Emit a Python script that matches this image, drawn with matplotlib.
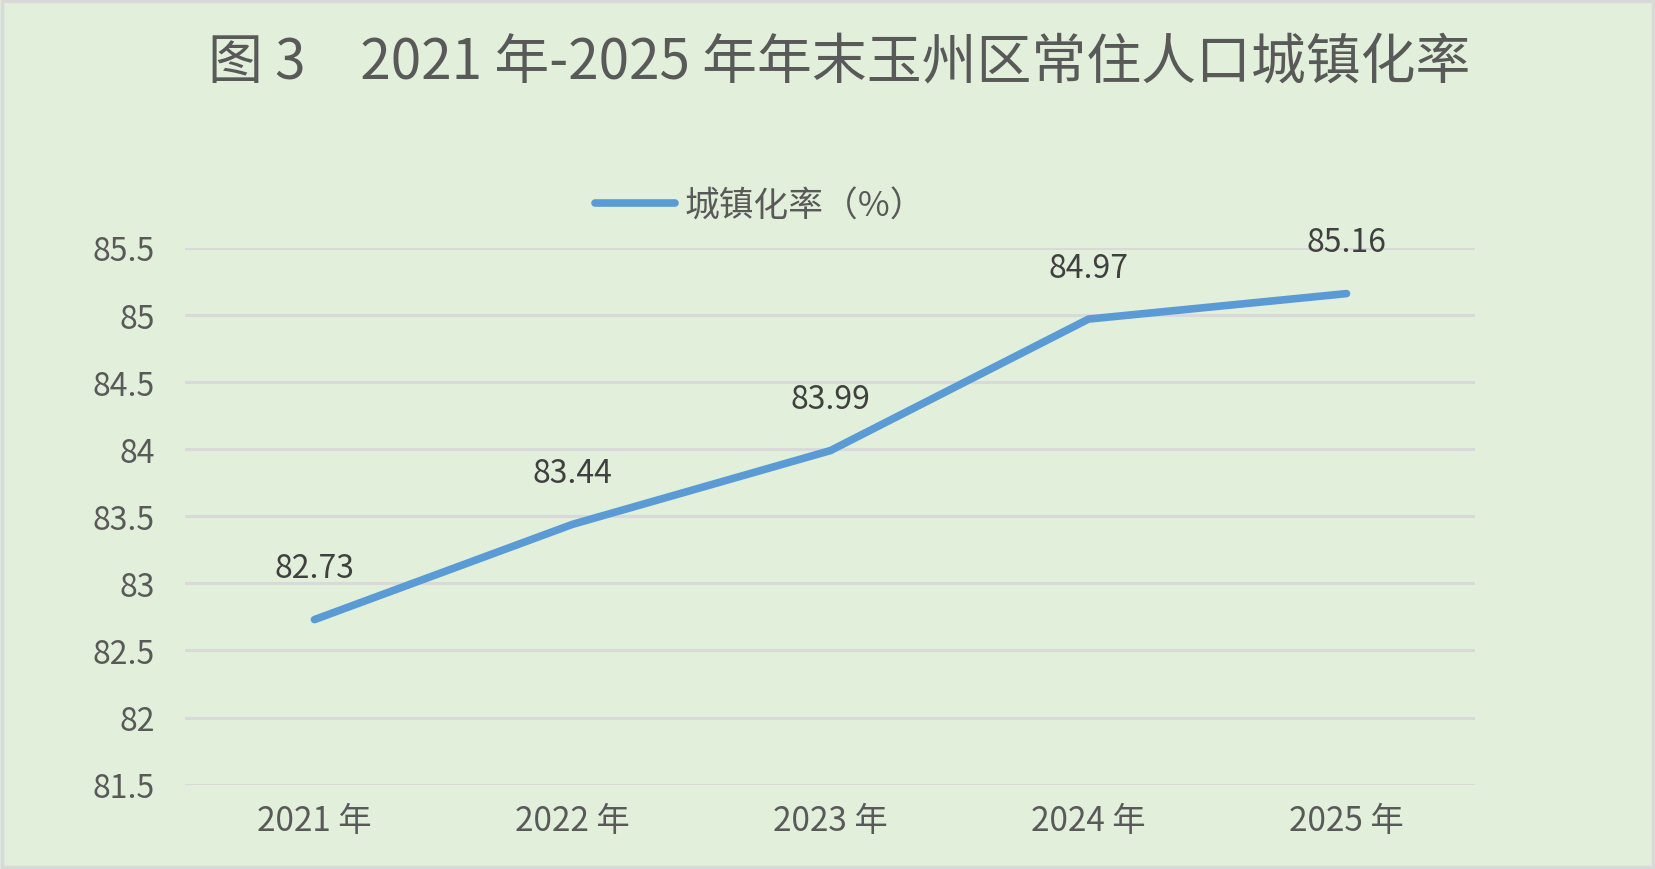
import matplotlib
matplotlib.use("Agg")
import matplotlib.pyplot as plt
from matplotlib.patches import Rectangle

plt.rcParams['font.family'] = ['Noto Sans CJK SC', 'DejaVu Sans']

# data
years = ["2021 年", "2022 年", "2023 年", "2024 年", "2025 年"]
rate = [82.73, 83.44, 83.99, 84.97, 85.16]
y_ticks = [81.5, 82, 82.5, 83, 83.5, 84, 84.5, 85, 85.5]
y_tick_labels = ["81.5", "82", "82.5", "83", "83.5", "84", "84.5", "85", "85.5"]

title = "图 3　2021 年-2025 年年末玉州区常住人口城镇化率"
series_name = "城镇化率（%）"

bg = "#E2EFDA"
text_grey = "#595959"
line_blue = "#5B9BD5"

fig = plt.figure(figsize=(16.56, 8.7), dpi=100)
fig.patch.set_facecolor(bg)
ax = fig.add_axes([0.112, 0.097, 0.779, 0.6168])
ax.set_facecolor(bg)

x = list(range(len(years)))
ax.plot(x, rate, color=line_blue, linewidth=5.5, solid_capstyle='round',
        solid_joinstyle='round', label=series_name, zorder=3)

# data labels above points
for xi, v in zip(x, rate):
    ax.annotate(f"{v:.2f}", (xi, v), xytext=(0, 37), textcoords='offset points',
                ha='center', va='center', fontsize=23, color="#404040")

ax.set_xlim(-0.5, len(years) - 0.5)
ax.set_ylim(81.5, 85.5)
ax.set_xticks(x)
ax.set_xticklabels(years, fontsize=24, color=text_grey)
ax.set_yticks(y_ticks)
ax.set_yticklabels(y_tick_labels, fontsize=23, color=text_grey)
ax.tick_params(axis='both', length=0)
ax.tick_params(axis='x', pad=13)
ax.tick_params(axis='y', pad=22)

ax.grid(axis='y', color="#D9D9D9", linewidth=2.2)
ax.set_axisbelow(True)
for s in ax.spines.values():
    s.set_visible(False)

fig.text(0.507, 1 - 64 / 870, title, ha='center', va='center',
         fontsize=39.5, color=text_grey)

fig.legend(loc='center', bbox_to_anchor=(0.459, 1 - 207 / 870), frameon=False,
           fontsize=25, labelcolor=text_grey, handlelength=2.3, handletextpad=0.3)

# thin grey frame around the chart
fig.patches.append(Rectangle((0.001, 0.002), 0.997, 0.996, transform=fig.transFigure,
                             fill=False, edgecolor="#D9D9D9", linewidth=2.5))

fig.savefig("out.png", dpi=100, facecolor=bg)
